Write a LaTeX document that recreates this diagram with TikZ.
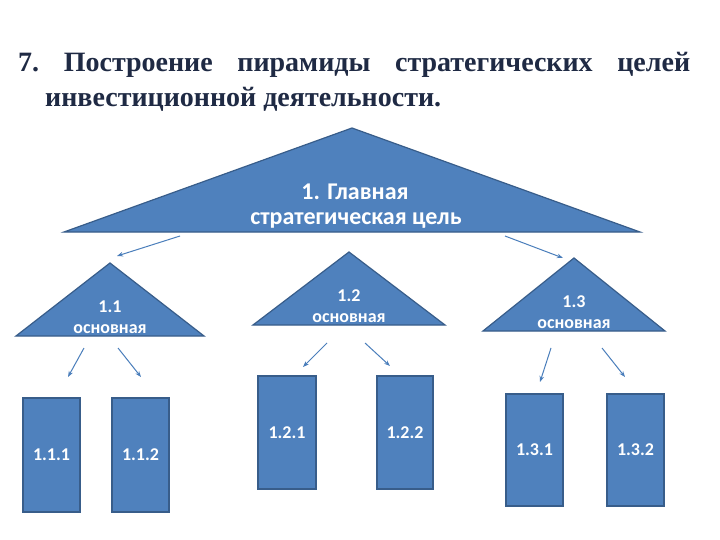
\documentclass[tikz,border=0pt]{standalone}
\usepackage{fontspec}
\setmainfont{Liberation Serif}
\newfontfamily\calibrifont{Carlito}
\usepackage{tikz}
\usetikzlibrary{arrows.meta}
\definecolor{gblue}{HTML}{4F81BD}
\definecolor{gbluedark}{HTML}{385D8A}
\definecolor{gnavy}{HTML}{1F2A44}
\definecolor{garrow}{HTML}{4A7EBB}
\tikzset{
  trilabel/.style={font=\calibrifont\bfseries\fontsize{18}{20}\selectfont, text=white, inner sep=0pt},
  mainlabel/.style={font=\calibrifont\bfseries\fontsize{24}{26}\selectfont, text=white, inner sep=0pt},
  boxlabel/.style={font=\calibrifont\bfseries\fontsize{18}{20}\selectfont, text=white, inner sep=0pt},
  goalarrow/.style={garrow, line width=1pt, -{Stealth[length=6pt, width=4.5pt]}},
}
% apex x, apex y, base y, half width
\newcommand{\goaltri}[4]{%
  \filldraw[fill=gblue, draw=gbluedark, line width=1.2pt, line join=miter]
    (#1,#2) -- (#1-#4,#3) -- (#1+#4,#3) -- cycle;
}
% x1, y1, x2, y2, name, label
\newcommand{\goalbox}[6]{%
  \filldraw[fill=gblue, draw=gbluedark, line width=1.2pt] (#1,#2) rectangle (#3,#4);
  \node[boxlabel] (#5) at ({(#1+#3)/2},{(#2+#4)/2}) {#6};
}

\begin{document}
\begin{tikzpicture}[x=1pt, y=-1pt]

  \fill[white] (0,0) rectangle (720,540);
  \useasboundingbox (0,0) rectangle (720,540);

  %% Title
  \node[font=\fontsize{28}{34}\selectfont\bfseries, text=gnavy, anchor=base west, inner sep=0pt] (title1) at (18,72)
    {\makebox[672pt][l]{7.\hfill Построение\hfill пирамиды\hfill стратегических\hfill целей}};
  \node[font=\fontsize{28}{34}\selectfont\bfseries, text=gnavy, anchor=base west, inner sep=0pt] (title2) at (45,107)
    {инвестиционной деятельности.};

  %% Main goal
  \goaltri{352}{128}{232}{288}
  \node[mainlabel] (main1) at (355,192) {1. Главная};
  \node[mainlabel] (main2) at (356,221) {стратегическая цель};

  %% Basic goals
  \goaltri{110}{263}{336}{94}
  \node[trilabel] (g11a) at (110,307) {1.1};
  \node[trilabel] (g11) at (110,329) {основная};

  \goaltri{349}{252}{325}{96}
  \node[trilabel] (g12a) at (349,296) {1.2};
  \node[trilabel] (g12) at (349,318) {основная};

  \goaltri{574}{258}{331}{91}
  \node[trilabel] (g13a) at (574,302) {1.3};
  \node[trilabel] (g13) at (574,324) {основная};

  %% Sub goals
  \goalbox{23}{398}{80}{512}{g111}{1.1.1}
  \goalbox{112}{398}{169}{512}{g112}{1.1.2}
  \goalbox{258}{376}{316}{489}{g121}{1.2.1}
  \goalbox{377}{376}{433}{489}{g122}{1.2.2}
  \goalbox{506}{394}{563}{506}{g131}{1.3.1}
  \goalbox{607}{394}{664}{506}{g132}{1.3.2}

  %% Arrow ends
  \coordinate (m-l) at (180,236);  \coordinate (t11) at (117,256);
  \coordinate (m-r) at (505,236);  \coordinate (t13) at (563,258);
  \coordinate (f11l) at (84,348);  \coordinate (t111) at (68,377);
  \coordinate (f11r) at (118,348); \coordinate (t112) at (141,377);
  \coordinate (f12l) at (327,343); \coordinate (t121) at (303,367);
  \coordinate (f12r) at (365,343); \coordinate (t122) at (390,366);
  \coordinate (f13l) at (551,348); \coordinate (t131) at (540,382);
  \coordinate (f13r) at (602,348); \coordinate (t132) at (625,377);

  \draw[goalarrow] (m-l) -- (t11);
  \draw[goalarrow] (m-r) -- (t13);
  \draw[goalarrow] (f11l) -- (t111);
  \draw[goalarrow] (f11r) -- (t112);
  \draw[goalarrow] (f12l) -- (t121);
  \draw[goalarrow] (f12r) -- (t122);
  \draw[goalarrow] (f13l) -- (t131);
  \draw[goalarrow] (f13r) -- (t132);

\end{tikzpicture}
\end{document}
